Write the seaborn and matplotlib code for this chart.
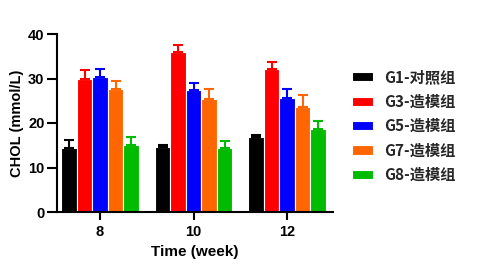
import matplotlib
matplotlib.use("Agg")
import matplotlib.pyplot as plt
import seaborn as sns
import pandas as pd
import numpy as np

weeks = ["8", "10", "12"]
groups = ["G1-对照组", "G3-造模组", "G5-造模组", "G7-造模组", "G8-造模组"]
colors = ["#000000", "#FF0000", "#0000FF", "#FF6600", "#00BB00"]
means = {
    "G1-对照组": [14.4, 14.5, 16.8],
    "G3-造模组": [29.8, 36.0, 32.1],
    "G5-造模组": [30.4, 27.4, 25.7],
    "G7-造模组": [27.7, 25.3, 23.7],
    "G8-造模组": [15.1, 14.3, 18.7],
}
errs = {
    "G1-对照组": [1.8, 0.6, 0.6],
    "G3-造模组": [2.1, 1.6, 1.7],
    "G5-造模组": [1.8, 1.7, 1.9],
    "G7-造模组": [1.8, 2.4, 2.7],
    "G8-造模组": [1.7, 1.7, 1.8],
}

rows = []
for g in groups:
    for i, w in enumerate(weeks):
        rows.append({"week": w, "group": g, "value": means[g][i], "err": errs[g][i]})
df = pd.DataFrame(rows)

sns.set_style("ticks")
plt.rcParams["font.family"] = ["Liberation Sans", "Noto Sans CJK SC", "DejaVu Sans"]

fig = plt.figure(figsize=(4.94, 2.76), dpi=100)
ax = fig.add_axes([57/494, 1-212/276, (333-57)/494, (212-34)/276])

sns.barplot(data=df, x="week", y="value", hue="group", order=weeks, hue_order=groups,
            palette=colors, saturation=1, width=0.83, edgecolor="white", linewidth=0.8,
            errorbar=None, ax=ax, legend=True)

# error bars (upper only)
for gi, g in enumerate(groups):
    cont = ax.containers[gi]
    for bi, bar in enumerate(cont):
        xc = bar.get_x() + bar.get_width()/2
        h = bar.get_height()
        e = errs[g][bi]
        ax.errorbar(xc, h, yerr=[[0], [e]], fmt="none", ecolor=colors[gi],
                    elinewidth=1.5, capsize=3.5, capthick=1.5, zorder=3)

ax.set_ylim(0, 40)
ax.set_yticks([0, 10, 20, 30, 40])
ax.set_xlim(-0.46, 2.49)
for s in ["top", "right"]:
    ax.spines[s].set_visible(False)
for s in ["left", "bottom"]:
    ax.spines[s].set_linewidth(1.5)
    ax.spines[s].set_color("black")
ax.tick_params(axis="both", width=1.5, color="black", labelsize=10.5, labelcolor="black")
ax.tick_params(axis="y", length=7, pad=2)
ax.tick_params(axis="x", length=6)
for lab in ax.get_xticklabels() + ax.get_yticklabels():
    lab.set_fontweight("bold")
ax.set_xlabel("Time (week)", fontsize=11, fontweight="bold", color="black")
ax.set_ylabel("CHOL (mmol/L)", fontsize=10.5, fontweight="bold", color="black")
ax.yaxis.set_label_coords((24 - 57) / 276, 0.5)

leg = ax.legend(loc="center left", bbox_to_anchor=(338/494, 1-126/276),
                bbox_transform=fig.transFigure, frameon=False,
                prop={"family": ["Noto Sans CJK SC", "DejaVu Sans"], "size": 11, "weight": "bold"},
                handlelength=1.4, handleheight=0.55, labelspacing=0.55, handletextpad=0.7)
for h in leg.legend_handles:
    h.set_edgecolor("white")

fig.savefig("out.png", dpi=100)
